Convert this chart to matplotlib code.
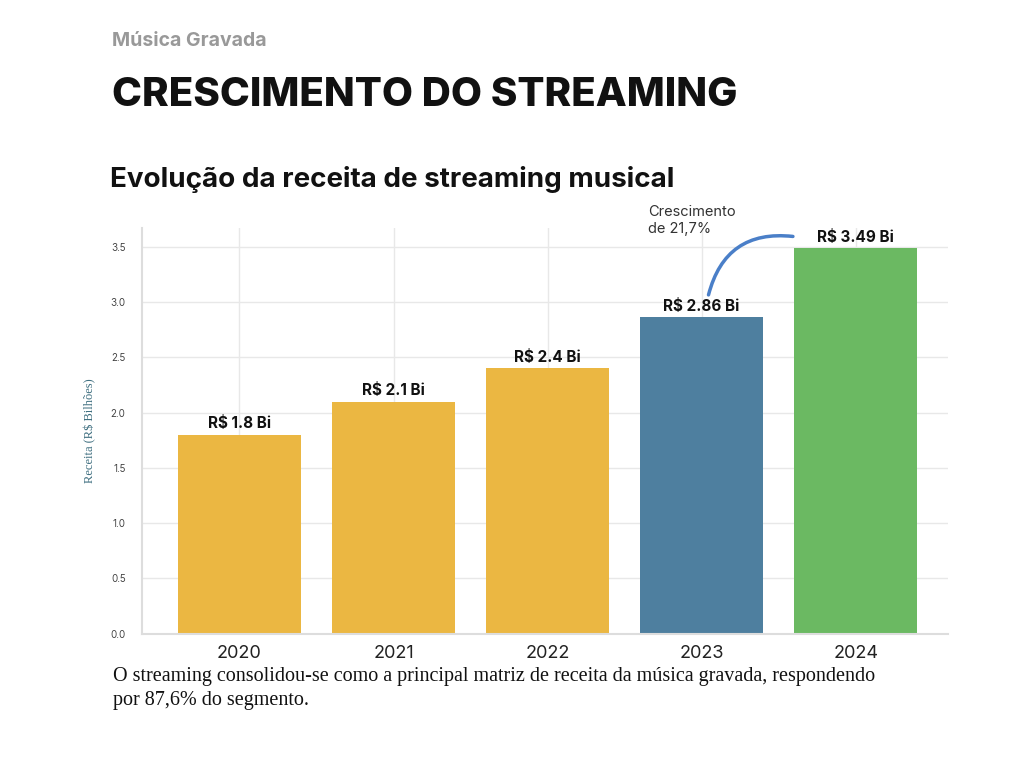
import matplotlib.pyplot as plt
from matplotlib.patches import FancyArrowPatch

YEARS = ["2020", "2021", "2022", "2023", "2024"]
REVENUE = [1.8, 2.1, 2.4, 2.86, 3.49]
LABELS = ["R$ 1.8 Bi", "R$ 2.1 Bi", "R$ 2.4 Bi", "R$ 2.86 Bi", "R$ 3.49 Bi"]
COLORS = ["#EBB742", "#EBB742", "#EBB742", "#4E7F9F", "#6BB962"]
Y_TICKS = [0.0, 0.5, 1.0, 1.5, 2.0, 2.5, 3.0, 3.5]

SANS = "Inter"
SERIF = "Liberation Serif"

fig = plt.figure(figsize=(10.24, 7.7), dpi=100)
fig.text(0.109, 0.94, "Música Gravada", fontsize=14, fontweight="bold",
         color="#999999", family=SANS)
fig.text(0.109, 0.862, "CRESCIMENTO DO STREAMING", fontsize=29,
         fontweight="heavy", color="#111111", family=SANS)
fig.text(0.107, 0.757, "Evolução da receita de streaming musical", fontsize=20,
         fontweight="bold", color="#111111", family=SANS)
fig.text(0.11, 0.085,
         "O streaming consolidou-se como a principal matriz de receita da música gravada, respondendo\npor 87,6% do segmento.",
         fontsize=14.5, color="#111111", family=SERIF, linespacing=1.35)

ax = fig.add_axes([0.139, 0.177, 0.787, 0.527])
x = list(range(len(YEARS)))
ax.bar(x, REVENUE, width=0.8, color=COLORS, zorder=2)
for xi, v, lab in zip(x, REVENUE, LABELS):
    ax.text(xi, v + 0.03, lab, ha="center", va="bottom", fontsize=11,
            fontweight="bold", family=SANS, color="#111111", zorder=3)

ax.set_xlim(-0.63, 4.6)
ax.set_ylim(0, 3.67)
ax.set_xticks(x)
ax.set_xticklabels(YEARS, fontsize=13, family=SANS, color="#222222")
ax.set_yticks(Y_TICKS)
ax.set_yticklabels([f"{t:.1f}" for t in Y_TICKS], fontsize=7, family=SANS, color="#444444")
ax.tick_params(length=0, pad=8)
ax.tick_params(axis="y", pad=12)
ax.grid(True, color="#e8e8e8", linewidth=1, zorder=0)
for s in ["top", "right"]:
    ax.spines[s].set_visible(False)
for s in ["left", "bottom"]:
    ax.spines[s].set_color("#dddddd")
    ax.spines[s].set_linewidth(1.5)
ax.set_ylabel("Receita (R$ Bilhões)", fontsize=9, family=SERIF, color="#3f6f80", labelpad=10)

arc = FancyArrowPatch((3.04, 3.04), (3.61, 3.59), arrowstyle="-",
                      connectionstyle="arc3,rad=-0.45", color="#4A7FC8",
                      linewidth=2.5, zorder=4)
ax.add_patch(arc)
ax.text(2.65, 3.6, "Crescimento\nde 21,7%", fontsize=10.5, family=SANS,
        color="#333333", va="bottom", ha="left", linespacing=1.2)

fig.savefig("out.png", dpi=100)
